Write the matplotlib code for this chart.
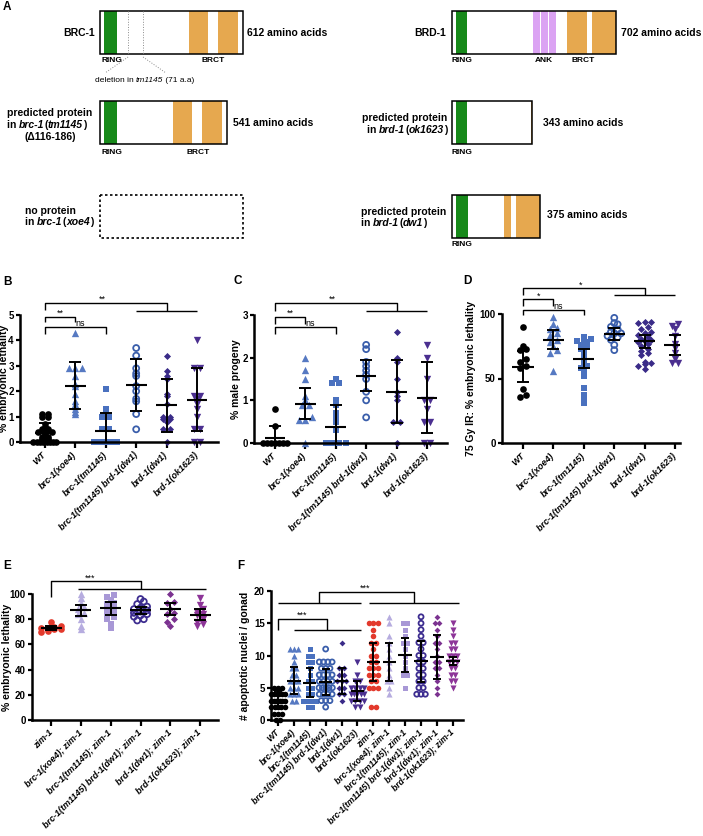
import numpy as np
import matplotlib.pyplot as plt
from matplotlib.patches import Rectangle

plt.rcParams['font.family'] = ['Liberation Sans', 'DejaVu Sans']

W, H = 703, 836

# ---------------- panel A: protein maps, amino-acid coordinates
brc1_len = 612
brc1_ring = (17, 73)
brc1_brct = [(380, 462), (504, 590)]
brc1_del = (120, 184)
tm1145_len = 541
tm1145_brct = [(312, 393), (436, 521)]
brd1_len = 702
brd1_ring = (17, 64)
brd1_ank = [(346, 376), (380, 410), (415, 444)]
brd1_brct = [(491, 577), (598, 702)]
ok1623_len = 343
ok1623_brct = [(338, 343)]
dw1_len = 375
dw1_ring = (17, 68)
dw1_brct = [(222, 252), (274, 375)]

# ---------------- B-D: six strains
strains = ['WT', 'brc-1(xoe4)', 'brc-1(tm1145)', 'brc-1(tm1145) brd-1(dw1)',
           'brd-1(dw1)', 'brd-1(ok1623)']

b_wt = [0, 0, 0, 0, 0, 0, 0, 0, 0.1, 0.1, 0.2, 0.2, 0.3, 0.4, 0.4, 0.4, 0.5, 0.5, 0.6, 0.7, 1.0, 1.0, 1.1, 1.1]
b_xoe4 = [4.3, 2.9, 2.9, 2.9, 2.6, 2.3, 2.2, 1.9, 1.6, 1.5, 1.4, 1.3, 1.2, 1.1]
b_tm = [2.1, 1.3, 1.0, 1.0, 0.5, 0.5, 0, 0, 0, 0, 0, 0, 0, 0]
b_dbl = [3.7, 3.4, 2.9, 2.7, 2.6, 2.2, 2.0, 1.7, 1.6, 1.1, 0.5]
b_dw1 = [3.4, 2.8, 2.6, 2.5, 1.9, 1.8, 1.5, 1.0, 1.0, 0.9, 0.9, 0.8, 0.5, 0.5, 0]
b_ok = [4.0, 2.9, 2.9, 1.8, 1.8, 1.7, 1.5, 1.3, 1.0, 0.5, 0.5, 0, 0]
b_mean = [0.37, 2.22, 0.45, 2.23, 1.45, 1.67]
b_sd = [0.38, 0.93, 0.68, 1.02, 1.05, 1.25]

c_wt = [0.8, 0.4, 0, 0, 0, 0, 0, 0, 0]
c_xoe4 = [2.0, 1.7, 1.5, 1.1, 1.0, 0.9, 0.9, 0.6, 0.55, 0.55, 0.0]
c_tm = [1.5, 1.4, 1.4, 1.0, 0.9, 0.7, 0.6, 0.5, 0.3, 0, 0, 0, 0]
c_dbl = [2.3, 2.2, 1.9, 1.8, 1.7, 1.6, 1.5, 1.2, 1.0, 0.6]
c_dw1 = [2.6, 2.0, 1.9, 1.5, 1.2, 1.1, 1.0, 0.5, 0.5, 0]
c_ok = [2.3, 2.0, 1.5, 1.0, 1.0, 0.8, 0.5, 0.5, 0, 0]
c_mean = [0.12, 0.92, 0.38, 1.58, 1.2, 1.06]
c_sd = [0.27, 0.36, 0.5, 0.37, 0.74, 0.83]

d_wt = [90, 75, 73, 72, 65, 63, 60, 58, 42, 36, 37]
d_xoe4 = [98, 92, 89, 88, 85, 84, 80, 78, 75, 72, 70, 56]
d_tm = [82, 81, 80, 79, 78, 76, 75, 73, 70, 65, 62, 60, 58, 55, 52, 43, 37, 34, 31]
d_dbl = [97, 93, 92, 90, 88, 86, 85, 85, 83, 82, 80, 76, 72]
d_dw1 = [94, 94, 93, 90, 88, 86, 85, 84, 82, 81, 80, 79, 78, 77, 75, 73, 71, 70, 68, 63, 62, 61, 60, 57]
d_ok = [92, 91, 88, 83, 77, 74, 70, 65, 62, 62]
d_mean = [59, 80, 65.5, 84.5, 79, 76]
d_sd = [12, 7.5, 7.5, 5, 5, 8]

# ---------------- E: zim-1 backgrounds
zim_strains = ['zim-1', 'brc-1(xoe4); zim-1', 'brc-1(tm1145); zim-1',
               'brc-1(tm1145) brd-1(dw1); zim-1', 'brd-1(dw1); zim-1', 'brd-1(ok1623); zim-1']
e_zim = [78, 75, 74, 73, 73, 72, 72, 71, 70]
e_xoe4 = [100, 97, 93, 90, 88, 85, 84, 80, 75, 72]
e_tm = [99, 98, 95, 93, 92, 90, 88, 86, 84, 82, 80, 76, 73]
e_dbl = [96, 94, 92, 90, 89, 88, 87, 86, 85, 84, 83, 82, 80, 79]
e_dw1 = [100, 94, 93, 88, 85, 84, 80, 78, 75]
e_ok = [97, 91, 88, 86, 84, 83, 80, 78, 76, 75]
e_mean = [73, 87, 88.5, 87, 88, 83.5]
e_sd = [1.5, 4.5, 5, 2.5, 5, 4.5]

# ---------------- F: apoptotic nuclei
f_wt = [5, 5, 5, 4, 4, 4, 4, 4, 4, 3, 3, 3, 3, 3, 3, 3, 2, 2, 2, 2, 2, 1, 1, 1, 0, 0]
f_xoe4 = [11, 11, 11, 10, 9, 8, 8, 7, 7, 6, 6, 6, 5, 5, 5, 4, 4, 4, 3, 3]
f_tm = [11, 10, 10, 9, 9, 8, 7, 6, 6, 5, 5, 4, 4, 3, 3, 3, 3, 2, 2]
f_dbl = [11, 9, 9, 9, 9, 8, 8, 8, 7, 7, 7, 7, 6, 6, 6, 6, 5, 5, 5, 5, 5, 4, 4, 4, 4, 3, 3, 3, 2]
f_dw1 = [12, 8, 8, 7, 7, 6, 6, 6, 5, 5, 4, 4, 3]
f_ok = [9, 7, 6, 6, 5, 5, 5, 5, 4, 4, 4, 4, 4, 3, 3, 3, 3, 2, 2]
f_zim = [15, 15, 15, 14, 13, 12, 12, 11, 10, 10, 9, 9, 8, 8, 8, 7, 7, 7, 6, 6, 5, 5, 5, 2, 2]
f_xoe4z = [16, 15, 13, 12, 11, 10, 9, 8, 7, 6, 6, 5, 4]
f_tmz = [15, 15, 14, 13, 12, 12, 11, 10, 9, 8, 7, 7, 5]
f_dblz = [16, 15, 14, 13, 12, 12, 11, 10, 10, 9, 9, 8, 8, 7, 7, 6, 6, 5, 5, 4, 4, 4]
f_dw1z = [16, 15, 15, 14, 13, 12, 12, 11, 10, 9, 9, 8, 8, 7, 6, 5, 4]
f_okz = [15, 14, 13, 12, 12, 11, 11, 10, 10, 10, 9, 9, 9, 8, 8, 7, 7, 6, 6, 5]
f_mean = [3.1, 6.1, 5.8, 5.9, 6.1, 4.5, 9.0, 9.0, 10.1, 9.1, 9.8, 9.1]
f_sd = [1.4, 2.1, 2.3, 2.0, 2.0, 1.5, 3.0, 3.0, 2.6, 3.2, 3.4, 0.6]

# styles
GREEN = '#17891a'
ORANGE = '#e6a84f'
ANKC = '#dba3f3'
mk6 = ['o', '^', 's', 'o', 'D', 'v']
fill6 = [True, True, True, False, True, True]
col6 = ['black', '#5679c2', '#4a71bf', '#3a5eab', '#3a2b88', '#4b2f90']
colz = ['#e3392c', '#b6acdf', '#a898d6', '#3d2d90', '#7b3290', '#8d3598']
msz = {'o': 1.0, '^': 1.1, 'v': 1.1, 's': 0.9, 'D': 0.75}


def spread(vals, dx, maxhalf, tol):
    vals = np.asarray(vals, float)
    order = np.argsort(vals)
    offs = np.zeros(len(vals))
    groups = []
    cur = [order[0]]
    for i in order[1:]:
        if vals[i] - vals[cur[0]] < tol:
            cur.append(i)
        else:
            groups.append(cur)
            cur = [i]
    groups.append(cur)
    for g in groups:
        n = len(g)
        if n > 1:
            half = min((n - 1) * dx / 2, maxhalf)
            offs[g] = np.linspace(-half, half, n)
    return offs


def px_axes(x0, y0, x1, y1):
    return fig.add_axes([x0 / W, 1 - y1 / H, (x1 - x0) / W, (y1 - y0) / H])


def dotplot(ax, groups, markers, colors, filled, means, sds, ms, dx, maxhalf, tol, mw, cw):
    for i, vals in enumerate(groups):
        offs = spread(vals, dx, maxhalf, tol)
        m = markers[i]
        size = (ms * msz[m]) ** 2
        if filled[i]:
            ax.scatter(i + offs, vals, s=size, marker=m, color=colors[i], lw=0,
                       clip_on=False, zorder=2)
        else:
            ax.scatter(i + offs, vals, s=size * 0.8, marker=m, facecolors='none',
                       edgecolors=colors[i], lw=1.3, clip_on=False, zorder=2)
        ax.errorbar(i, means[i], yerr=sds[i], fmt='none', ecolor='k', elinewidth=1.4,
                    capsize=cw, capthick=1.4, zorder=3)
        ax.hlines(means[i], i - mw, i + mw, color='k', lw=1.5, zorder=3)


def style(ax, xlim, ylim, yticks, labels, ylabel, lab_x, fs=6.5):
    ax.set_xlim(xlim)
    ax.set_ylim(ylim)
    ax.patch.set_alpha(0)
    for s in ['top', 'right']:
        ax.spines[s].set_visible(False)
    for s in ['left', 'bottom']:
        ax.spines[s].set_linewidth(1.8)
    ax.set_yticks(yticks, [str(t) for t in yticks], fontsize=7, fontweight='bold')
    ax.set_xticks(range(len(labels)), labels, rotation=45, ha='right', va='center',
                  rotation_mode='anchor', fontsize=fs, fontweight='bold', fontstyle='italic')
    ax.tick_params(width=1.6, length=3, pad=1.5)
    ax.tick_params(axis='x', length=4, pad=4)
    ax.set_ylabel(ylabel, fontsize=7.5, fontweight='bold', va='center')
    ax.yaxis.set_label_coords(lab_x, 0.5)


def bracket(ax, segs, texts):
    for xs, ys in segs:
        ax.plot(xs, ys, color='k', lw=1.0, clip_on=False, solid_capstyle='butt')
    for x, y, s in texts:
        ax.text(x, y, s, ha='center', va='bottom', fontsize=6.5, clip_on=False)


def rich(ax, x, y, parts, ha='left', size=7.5, weight='bold'):
    kw = dict(fontsize=size, fontweight=weight)
    if ha == 'left':
        t = ax.text(x, y, parts[0][0], ha='left', va='center',
                    fontstyle='italic' if parts[0][1] else 'normal', **kw)
        for s, it in parts[1:]:
            t = ax.annotate(s, xy=(1, 0), xycoords=t, ha='left', va='bottom',
                            fontstyle='italic' if it else 'normal', **kw)
    else:
        t = ax.text(x, y, parts[-1][0], ha='right', va='center',
                    fontstyle='italic' if parts[-1][1] else 'normal', **kw)
        for s, it in reversed(parts[:-1]):
            t = ax.annotate(s, xy=(0, 0), xycoords=t, ha='right', va='bottom',
                            fontstyle='italic' if it else 'normal', **kw)


fig = plt.figure(figsize=(W / 100, H / 100), dpi=100)
ov = fig.add_axes([0, 0, 1, 1])
ov.set_xlim(0, W)
ov.set_ylim(H, 0)
ov.axis('off')

S = 0.234  # px per amino acid
BH = 43


def protein(x0, ytop, length, domains):
    for (a, b), c in domains:
        ov.add_patch(Rectangle((x0 + a * S, ytop), (b - a) * S, BH, color=c, lw=0))
    ov.add_patch(Rectangle((x0, ytop), length * S, BH, fill=False, ec='black', lw=1.1))


L0, R0 = 100, 452
protein(L0, 11, brc1_len, [(brc1_ring, GREEN)] + [(d, ORANGE) for d in brc1_brct])
for a in brc1_del:
    ov.plot([L0 + a * S] * 2, [11, 54], color='#8a8a8a', lw=0.7, ls=':')
ov.plot([L0 + brc1_del[0] * S, 105], [57, 73], color='#8a8a8a', lw=0.7, ls=':')
ov.plot([L0 + brc1_del[1] * S, 166], [57, 73], color='#8a8a8a', lw=0.7, ls=':')
protein(L0, 101, tm1145_len, [(brc1_ring, GREEN)] + [(d, ORANGE) for d in tm1145_brct])
ov.add_patch(Rectangle((L0, 195), brc1_len * S, BH, fill=False, ec='black', lw=1.2,
                       ls=(0, (1.5, 1.5))))
protein(R0, 11, brd1_len, [(brd1_ring, GREEN)] + [(d, ANKC) for d in brd1_ank]
        + [(d, ORANGE) for d in brd1_brct])
protein(R0, 101, ok1623_len, [(brd1_ring, GREEN)] + [(d, ORANGE) for d in ok1623_brct])
protein(R0, 195, dw1_len, [(dw1_ring, GREEN)] + [(d, ORANGE) for d in dw1_brct])

bk = dict(fontsize=7.5, fontweight='bold', va='center')
sm = dict(fontsize=6, fontweight='bold', va='center')
ov.text(95, 33, 'BRC-1', ha='right', **bk)
ov.text(247, 33, '612 amino acids', ha='left', **bk)
ov.text(101, 61, 'RING', ha='left', **sm)
ov.text(213, 61, 'BRCT', ha='center', **sm)
rich(ov, 95, 80, [('deletion in ', False), ('tm1145', True), (' (71 a.a)', False)],
     size=6, weight='normal')
ov.text(7, 113, 'predicted protein', ha='left', **bk)
rich(ov, 7, 125, [('in ', False), ('brc-1', True), ('(', False), ('tm1145', True), (')', False)])
ov.text(50, 137, '(\u0394116-186)', ha='center', **bk)
ov.text(233, 123, '541 amino acids', ha='left', **bk)
ov.text(101, 152, 'RING', ha='left', **sm)
ov.text(198, 152, 'BRCT', ha='center', **sm)
ov.text(25, 211, 'no protein', ha='left', **bk)
rich(ov, 25, 222, [('in ', False), ('brc-1', True), ('(', False), ('xoe4', True), (')', False)])

ov.text(446, 33, 'BRD-1', ha='right', **bk)
ov.text(621, 33, '702 amino acids', ha='left', **bk)
ov.text(452, 61, 'RING', ha='left', **sm)
ov.text(544, 61, 'ANK', ha='center', **sm)
ov.text(583, 61, 'BRCT', ha='center', **sm)
ov.text(447, 118, 'predicted protein', ha='right', **bk)
rich(ov, 447, 130, [('in ', False), ('brd-1', True), ('(', False), ('ok1623', True), (')', False)],
     ha='right')
ov.text(543, 123, '343 amino acids', ha='left', **bk)
ov.text(452, 153, 'RING', ha='left', **sm)
ov.text(361, 212, 'predicted protein', ha='left', **bk)
rich(ov, 361, 223, [('in ', False), ('brd-1', True), ('(', False), ('dw1', True), (')', False)])
ov.text(547, 215, '375 amino acids', ha='left', **bk)
ov.text(452, 244, 'RING', ha='left', **sm)

for s, x, y in [('A', 3, 7), ('B', 3, 282), ('C', 234, 281), ('D', 463, 281),
                ('E', 3, 566), ('F', 237, 566)]:
    ov.text(x, y, s, fontsize=8.5, fontweight='bold', ha='left', va='center')

# ---------------- B
axB = px_axes(20, 315, 218, 442)
dotplot(axB, [b_wt, b_xoe4, b_tm, b_dbl, b_dw1, b_ok], mk6, col6, fill6, b_mean, b_sd,
        ms=4.8, dx=0.22, maxhalf=0.38, tol=0.08, mw=0.34, cw=4.3)
style(axB, (-0.82, 5.69), (0, 5), [0, 1, 2, 3, 4, 5], strains, '% embryonic lethality',
      -16 / 198)
bracket(axB, [([0, 0, 4, 4], [5.2, 5.47, 5.47, 5.16]), ([3, 5], [5.16, 5.16]),
              ([0, 0, 1, 1], [4.72, 4.92, 4.92, 4.72]),
              ([0, 0, 2, 2], [4.25, 4.53, 4.53, 4.25])],
        [(1.9, 5.43, '**'), (0.5, 4.88, '**'), (1.15, 4.49, 'ns')])

# ---------------- C
axC = px_axes(254, 315, 447, 443)
dotplot(axC, [c_wt, c_xoe4, c_tm, c_dbl, c_dw1, c_ok], mk6, col6, fill6, c_mean, c_sd,
        ms=4.8, dx=0.22, maxhalf=0.38, tol=0.05, mw=0.34, cw=4.3)
style(axC, (-0.69, 5.66), (0, 3), [0, 1, 2, 3], strains, '% male progeny', -18 / 193)
bracket(axC, [([0, 0, 4, 4], [3.1, 3.29, 3.29, 3.1]), ([3, 5], [3.1, 3.1]),
              ([0, 0, 1, 1], [2.8, 2.96, 2.96, 2.8]),
              ([0, 0, 2, 2], [2.55, 2.71, 2.71, 2.55])],
        [(1.9, 3.27, '**'), (0.5, 2.94, '**'), (1.15, 2.69, 'ns')])

# ---------------- D
axD = px_axes(502, 314, 680, 443)
dotplot(axD, [d_wt, d_xoe4, d_tm, d_dbl, d_dw1, d_ok], mk6, col6, fill6, d_mean, d_sd,
        ms=4.8, dx=0.22, maxhalf=0.38, tol=3, mw=0.35, cw=4.3)
style(axD, (-0.69, 5.16), (0, 100), [0, 50, 100], strains,
      '75 Gy IR: % embryonic lethality', -31 / 178)
bracket(axD, [([0, 0, 4, 4], [114.7, 120, 120, 114.7]), ([3, 5], [114.7, 114.7]),
              ([0, 0, 1, 1], [106.4, 111.4, 111.4, 106.4]),
              ([0, 0, 2, 2], [99.2, 103.1, 103.1, 99.2])],
        [(1.9, 119, '*'), (0.5, 110.5, '*'), (1.15, 102.3, 'ns')])

# ---------------- E
axE = px_axes(32, 594, 218, 720)
dotplot(axE, [e_zim, e_xoe4, e_tm, e_dbl, e_dw1, e_ok], mk6, colz, fill6, e_mean, e_sd,
        ms=4.8, dx=0.22, maxhalf=0.38, tol=3, mw=0.35, cw=4.3)
style(axE, (-0.64, 5.6), (0, 100), [0, 20, 40, 60, 80, 100], zim_strains,
      '% embryonic lethality', -25 / 186)
bracket(axE, [([0, 0, 3, 3], [98, 110, 110, 104]), ([0.9, 5.2], [104, 104])],
        [(1.3, 109, '***')])

# ---------------- F
axF = px_axes(271, 591, 463, 720)
mk12 = mk6 + mk6
fill12 = fill6 + fill6
col12 = col6 + colz
dotplot(axF, [f_wt, f_xoe4, f_tm, f_dbl, f_dw1, f_ok, f_zim, f_xoe4z, f_tmz, f_dblz, f_dw1z, f_okz],
        mk12, col12, fill12, f_mean, f_sd, ms=4.0, dx=0.27, maxhalf=0.42, tol=0.5,
        mw=0.42, cw=2.7)
style(axF, (-0.44, 11.64), (0, 20), [0, 5, 10, 15, 20], strains + zim_strains,
      '# apoptotic nuclei / gonad', -26 / 192, fs=6.2)
bracket(axF, [([2.58, 2.58, 8.55, 8.55], [18.2, 19.9, 19.9, 18.2]),
              ([0, 5.2], [18.2, 18.2]), ([5.75, 11.4], [18.2, 18.2]),
              ([0, 0, 3.1, 3.1], [13.95, 15.7, 15.7, 13.95]), ([1, 5.2], [13.95, 13.95])],
        [(5.5, 19.8, '***'), (1.5, 15.6, '***')])

fig.savefig('out.png', dpi=100)
